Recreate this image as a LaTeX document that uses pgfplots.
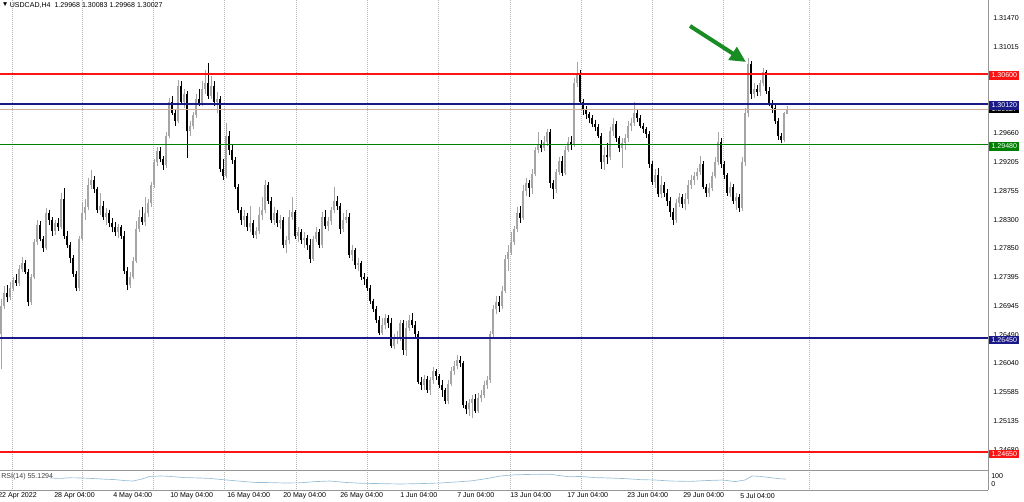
\documentclass[border=0pt]{standalone}
\usepackage{fontspec}
\setmainfont{Liberation Sans}
\usepackage{pgfplots}
\usepackage{pgfplotstable}
\pgfplotsset{compat=1.18}
\usetikzlibrary{arrows.meta}

\definecolor{bullc}{RGB}{165,165,165}
\definecolor{lvlred}{RGB}{250,20,20}
\definecolor{lvlnavy}{RGB}{25,25,135}
\definecolor{lvlgreen}{RGB}{0,128,0}
\definecolor{bidc}{RGB}{210,175,160}
\definecolor{gridc}{RGB}{180,180,180}
\definecolor{framec}{RGB}{150,150,150}
\definecolor{rsic}{RGB}{150,190,215}
\definecolor{arrowc}{RGB}{25,140,35}

% USDCAD H4 candles, one row per bar: open high low close
\pgfplotstableread{
o h l c
1.2650 1.2705 1.2595 1.2695
1.2695 1.2725 1.2690 1.2715
1.2715 1.2728 1.2700 1.2708
1.2708 1.2732 1.2704 1.2722
1.2722 1.2740 1.2718 1.2735
1.2735 1.2745 1.2726 1.2730
1.2730 1.2758 1.2726 1.2752
1.2752 1.2772 1.2748 1.2762
1.2762 1.2766 1.2744 1.2748
1.2748 1.2752 1.2694 1.2700
1.2700 1.2744 1.2696 1.2740
1.2740 1.2800 1.2736 1.2795
1.2795 1.2830 1.2790 1.2822
1.2822 1.2828 1.2796 1.2800
1.2800 1.2805 1.2780 1.2785
1.2785 1.2848 1.2783 1.2840
1.2840 1.2846 1.2822 1.2830
1.2830 1.2834 1.2805 1.2812
1.2812 1.2830 1.2806 1.2825
1.2825 1.2832 1.2812 1.2818
1.2818 1.2872 1.2815 1.2862
1.2862 1.2880 1.2800 1.2805
1.2805 1.2812 1.2785 1.2790
1.2790 1.2795 1.2762 1.2770
1.2770 1.2774 1.2740 1.2745
1.2745 1.2750 1.2718 1.2722
1.2722 1.2805 1.2718 1.2800
1.2800 1.2858 1.2796 1.2840
1.2840 1.2862 1.2830 1.2850
1.2850 1.2895 1.2845 1.2885
1.2885 1.2908 1.2878 1.2892
1.2892 1.2898 1.2872 1.2878
1.2878 1.2882 1.2840 1.2845
1.2845 1.2872 1.2838 1.2852
1.2852 1.2860 1.2830 1.2835
1.2835 1.2848 1.2822 1.2840
1.2840 1.2845 1.2818 1.2825
1.2825 1.2832 1.2810 1.2818
1.2818 1.2826 1.2804 1.2810
1.2810 1.2824 1.2802 1.2818
1.2818 1.2822 1.2800 1.2805
1.2805 1.2812 1.2745 1.2750
1.2750 1.2755 1.2719 1.2728
1.2728 1.2748 1.2722 1.2740
1.2740 1.2772 1.2736 1.2765
1.2765 1.2828 1.2762 1.2815
1.2815 1.2845 1.2810 1.2835
1.2835 1.2850 1.2822 1.2826
1.2826 1.2866 1.2820 1.2840
1.2840 1.2862 1.2834 1.2856
1.2856 1.2890 1.2850 1.2885
1.2885 1.2925 1.2880 1.2920
1.2920 1.2945 1.2914 1.2938
1.2938 1.2945 1.2920 1.2925
1.2925 1.2930 1.2908 1.2916
1.2916 1.2968 1.2912 1.2962
1.2962 1.3022 1.2958 1.3015
1.3015 1.3025 1.2994 1.2998
1.2998 1.3003 1.2978 1.2985
1.2985 1.3050 1.2982 1.3040
1.3040 1.3048 1.3010 1.3015
1.3015 1.3035 1.3005 1.3028
1.3028 1.3033 1.2927 1.2970
1.2970 1.2985 1.2962 1.2978
1.2978 1.3000 1.2972 1.2995
1.2995 1.3028 1.2990 1.3020
1.3020 1.3035 1.3008 1.3012
1.3012 1.3048 1.3008 1.3035
1.3035 1.3065 1.3028 1.3045
1.3045 1.3076 1.3020 1.3025
1.3025 1.3056 1.3020 1.3040
1.3040 1.3048 1.3008 1.3015
1.3015 1.3030 1.2998 1.3020
1.3020 1.3025 1.2905 1.2910
1.2910 1.2925 1.2892 1.2898
1.2898 1.2982 1.2895 1.2962
1.2962 1.2970 1.2932 1.2940
1.2940 1.2948 1.2918 1.2924
1.2924 1.2928 1.2878 1.2882
1.2882 1.2886 1.2840 1.2845
1.2845 1.2850 1.2822 1.2830
1.2830 1.2845 1.2818 1.2836
1.2836 1.2840 1.2812 1.2818
1.2818 1.2852 1.2810 1.2825
1.2825 1.2830 1.2802 1.2806
1.2806 1.2818 1.2800 1.2812
1.2812 1.2850 1.2808 1.2838
1.2838 1.2865 1.2830 1.2845
1.2845 1.2892 1.2840 1.2885
1.2885 1.2890 1.2855 1.2860
1.2860 1.2865 1.2825 1.2830
1.2830 1.2850 1.2822 1.2840
1.2840 1.2845 1.2818 1.2825
1.2825 1.2838 1.2815 1.2830
1.2830 1.2834 1.2785 1.2790
1.2790 1.2805 1.2778 1.2798
1.2798 1.2845 1.2792 1.2835
1.2835 1.2866 1.2830 1.2842
1.2842 1.2846 1.2800 1.2805
1.2805 1.2818 1.2795 1.2810
1.2810 1.2815 1.2792 1.2798
1.2798 1.2810 1.2785 1.2802
1.2802 1.2806 1.2782 1.2790
1.2790 1.2800 1.2762 1.2768
1.2768 1.2805 1.2765 1.2800
1.2800 1.2818 1.2795 1.2810
1.2810 1.2816 1.2785 1.2790
1.2790 1.2842 1.2786 1.2835
1.2835 1.2845 1.2815 1.2820
1.2820 1.2835 1.2812 1.2828
1.2828 1.2850 1.2822 1.2845
1.2845 1.2881 1.2840 1.2860
1.2860 1.2868 1.2845 1.2852
1.2852 1.2856 1.2808 1.2815
1.2815 1.2840 1.2810 1.2830
1.2830 1.2845 1.2825 1.2835
1.2835 1.2840 1.2770 1.2775
1.2775 1.2790 1.2765 1.2782
1.2782 1.2785 1.2752 1.2758
1.2758 1.2770 1.2750 1.2762
1.2762 1.2765 1.2735 1.2740
1.2740 1.2746 1.2728 1.2736
1.2736 1.2740 1.2718 1.2722
1.2722 1.2728 1.2698 1.2702
1.2702 1.2706 1.2685 1.2690
1.2690 1.2695 1.2668 1.2672
1.2672 1.2678 1.2648 1.2652
1.2652 1.2675 1.2648 1.2665
1.2665 1.2682 1.2658 1.2675
1.2675 1.2680 1.2660 1.2668
1.2668 1.2676 1.2628 1.2632
1.2632 1.2650 1.2626 1.2642
1.2642 1.2655 1.2635 1.2645
1.2645 1.2672 1.2640 1.2668
1.2668 1.2672 1.2618 1.2625
1.2625 1.2670 1.2615 1.2660
1.2660 1.2680 1.2655 1.2672
1.2672 1.2683 1.2660 1.2665
1.2665 1.2670 1.2645 1.2650
1.2650 1.2655 1.2572 1.2575
1.2575 1.2582 1.2562 1.2570
1.2570 1.2586 1.2562 1.2580
1.2580 1.2585 1.2558 1.2562
1.2562 1.2582 1.2555 1.2578
1.2578 1.2598 1.2572 1.2592
1.2592 1.2596 1.2578 1.2585
1.2585 1.2588 1.2565 1.2570
1.2570 1.2578 1.2552 1.2562
1.2562 1.2566 1.2540 1.2545
1.2545 1.2578 1.2540 1.2572
1.2572 1.2598 1.2568 1.2592
1.2592 1.2608 1.2586 1.2600
1.2600 1.2618 1.2595 1.2610
1.2610 1.2615 1.2598 1.2604
1.2604 1.2608 1.2534 1.2538
1.2538 1.2545 1.2525 1.2532
1.2532 1.2548 1.2522 1.2542
1.2542 1.2555 1.2518 1.2548
1.2548 1.2556 1.2526 1.2530
1.2530 1.2558 1.2526 1.2550
1.2550 1.2562 1.2544 1.2555
1.2555 1.2576 1.2550 1.2570
1.2570 1.2585 1.2564 1.2578
1.2578 1.2655 1.2574 1.2650
1.2650 1.2696 1.2645 1.2690
1.2690 1.2710 1.2682 1.2700
1.2700 1.2710 1.2685 1.2695
1.2695 1.2725 1.2690 1.2718
1.2718 1.2775 1.2714 1.2768
1.2768 1.2790 1.2750 1.2780
1.2780 1.2810 1.2775 1.2795
1.2795 1.2820 1.2790 1.2815
1.2815 1.2850 1.2810 1.2840
1.2840 1.2852 1.2825 1.2833
1.2833 1.2885 1.2830 1.2875
1.2875 1.2895 1.2868 1.2888
1.2888 1.2892 1.2865 1.2880
1.2880 1.2910 1.2870 1.2902
1.2902 1.2945 1.2898 1.2940
1.2940 1.2968 1.2935 1.2948
1.2948 1.2955 1.2936 1.2942
1.2942 1.2962 1.2938 1.2952
1.2952 1.2972 1.2946 1.2968
1.2968 1.2972 1.2880 1.2888
1.2888 1.2892 1.2862 1.2878
1.2878 1.2910 1.2872 1.2905
1.2905 1.2928 1.2900 1.2922
1.2922 1.2930 1.2898 1.2904
1.2904 1.2946 1.2900 1.2940
1.2940 1.2960 1.2936 1.2952
1.2952 1.2962 1.2940 1.2948
1.2948 1.3052 1.2945 1.3045
1.3045 1.3078 1.3038 1.3060
1.3060 1.3065 1.3010 1.3015
1.3015 1.3020 1.2995 1.3002
1.3002 1.3008 1.2988 1.2996
1.2996 1.3000 1.2982 1.2990
1.2990 1.2995 1.2975 1.2980
1.2980 1.2986 1.2970 1.2975
1.2975 1.2980 1.2958 1.2962
1.2962 1.2966 1.2910 1.2920
1.2920 1.2945 1.2908 1.2932
1.2932 1.2950 1.2918 1.2928
1.2928 1.2975 1.2924 1.2970
1.2970 1.2990 1.2962 1.2980
1.2980 1.2985 1.2952 1.2958
1.2958 1.2962 1.2936 1.2942
1.2942 1.2958 1.2912 1.2950
1.2950 1.2965 1.2940 1.2958
1.2958 1.2985 1.2952 1.2978
1.2978 1.2990 1.2970 1.2982
1.2982 1.3015 1.2978 1.2998
1.2998 1.3004 1.2984 1.2990
1.2990 1.2994 1.2974 1.2978
1.2978 1.2982 1.2966 1.2972
1.2972 1.2976 1.2958 1.2965
1.2965 1.2970 1.2912 1.2918
1.2918 1.2922 1.2885 1.2890
1.2890 1.2910 1.2880 1.2900
1.2900 1.2912 1.2865 1.2870
1.2870 1.2898 1.2864 1.2885
1.2885 1.2890 1.2866 1.2872
1.2872 1.2878 1.2852 1.2860
1.2860 1.2866 1.2835 1.2842
1.2842 1.2848 1.2822 1.2830
1.2830 1.2862 1.2825 1.2856
1.2856 1.2872 1.2850 1.2865
1.2865 1.2870 1.2848 1.2855
1.2855 1.2872 1.2845 1.2862
1.2862 1.2892 1.2855 1.2885
1.2885 1.2900 1.2878 1.2892
1.2892 1.2905 1.2885 1.2898
1.2898 1.2912 1.2892 1.2905
1.2905 1.2930 1.2900 1.2918
1.2918 1.2922 1.2878 1.2882
1.2882 1.2886 1.2866 1.2872
1.2872 1.2888 1.2865 1.2880
1.2880 1.2905 1.2875 1.2898
1.2898 1.2928 1.2895 1.2920
1.2920 1.2968 1.2916 1.2952
1.2952 1.2958 1.2912 1.2918
1.2918 1.2922 1.2894 1.2900
1.2900 1.2904 1.2868 1.2872
1.2872 1.2890 1.2866 1.2882
1.2882 1.2886 1.2855 1.2860
1.2860 1.2872 1.2845 1.2865
1.2865 1.2870 1.2842 1.2848
1.2848 1.2928 1.2844 1.2920
1.2920 1.3005 1.2915 1.2998
1.2998 1.3084 1.2992 1.3075
1.3075 1.3080 1.3020 1.3028
1.3028 1.3045 1.3022 1.3036
1.3036 1.3042 1.3024 1.3030
1.3030 1.3050 1.3025 1.3045
1.3045 1.3068 1.3040 1.3062
1.3062 1.3066 1.3028 1.3032
1.3032 1.3038 1.3008 1.3012
1.3012 1.3018 1.2998 1.3005
1.3005 1.3010 1.2980 1.2985
1.2985 1.2990 1.2956 1.2962
1.2962 1.2966 1.2950 1.2955
1.2955 1.3000 1.2952 1.2997
1.29968 1.30083 1.29968 1.30027
}\candles

% RSI(14), x in chart pixels
\pgfplotstableread{
x r
50 60
60 58
70 61
83 60
95 57
105 54
115 52
125 47
133 45
142 55
150 68
160 70
167 69
175 66
185 62
200 60
210 58
220 53
227 50
240 44
255 38
270 37
285 35
300 36
315 42
330 45
345 38
360 34
380 32
400 30
420 32
440 35
455 40
470 45
480 52
490 60
500 70
515 76
530 78
550 79
560 72
570 66
580 68
595 62
610 60
625 57
640 52
655 50
670 45
690 43
705 47
723 50
735 42
745 50
752 70
760 68
770 62
780 56
786 55
}\rsi

\begin{document}
\begin{tikzpicture}[font=\fontsize{5.3}{6.3}\selectfont]

% vertical grid, frame (pixel units)
\begin{scope}[x=0.75pt,y=-0.75pt]
\foreach \gx in {12,82,153,224,296,367,438,510,581,652,723,809}
  \draw[gridc, densely dotted, line width=0.5pt] (\gx,0) -- (\gx,490);
\draw[framec, line width=0.6pt] (988,0) -- (988,490);
\draw[framec, line width=0.6pt] (0,470) -- (988,470);
\draw[framec, line width=0.6pt] (0,490) -- (988,490);
\end{scope}

\begin{axis}[
  at={(0pt,0pt)}, anchor=north west,
  scale only axis, width=741pt, height=351pt,
  xmin=0, xmax=988, ymin=1.24397, ymax=1.31753,
  axis line style={draw=none}, xtick=\empty,
  ytick={1.31470,1.31015,1.30565,1.30110,1.29660,1.29205,1.28755,1.28300,1.27850,1.27395,1.26945,1.26490,1.26040,1.25585,1.25135,1.24680},
  yticklabels={1.31470,1.31015,1.30565,1.30110,1.29660,1.29205,1.28755,1.28300,1.27850,1.27395,1.26945,1.26490,1.26040,1.25585,1.25135,1.24680},
  ytick pos=right, yticklabel pos=right,
  major tick length=0pt,
  yticklabel style={anchor=west, inner sep=0pt, xshift=3.75pt, text=black},
  tick label style={font=\fontsize{5.3}{6.3}\selectfont},
  filter discard warning=false,
]
% wicks
\addplot[draw=none, mark=none, forget plot,
  restrict expr to domain={\thisrow{c}-\thisrow{o}}{0:1},
  error bars/.cd, y dir=plus, y explicit, error mark=none,
  error bar style={draw=bullc, solid, line width=0.55pt}]
  table[x expr=\coordindex*3+1, y=l, y error plus expr=\thisrow{h}-\thisrow{l}] {\candles};
\addplot[draw=none, mark=none, forget plot,
  restrict expr to domain={\thisrow{c}-\thisrow{o}}{-1:0},
  error bars/.cd, y dir=plus, y explicit, error mark=none,
  error bar style={draw=black, solid, line width=0.55pt}]
  table[x expr=\coordindex*3+1, y=l, y error plus expr=\thisrow{h}-\thisrow{l}] {\candles};
% bodies
\addplot[draw=none, mark=none, forget plot,
  restrict expr to domain={\thisrow{c}-\thisrow{o}}{0:1},
  error bars/.cd, y dir=plus, y explicit, error mark=none,
  error bar style={draw=bullc, solid, line width=1.2pt}]
  table[x expr=\coordindex*3+1, y=o, y error plus expr=\thisrow{c}-\thisrow{o}] {\candles};
\addplot[draw=none, mark=none, forget plot,
  restrict expr to domain={\thisrow{c}-\thisrow{o}}{-1:0},
  error bars/.cd, y dir=plus, y explicit, error mark=none,
  error bar style={draw=black, solid, line width=1.5pt}]
  table[x expr=\coordindex*3+1, y=c, y error plus expr=\thisrow{o}-\thisrow{c}] {\candles};
\end{axis}

% horizontal levels and price boxes, in pixel units (1px = 0.75pt)
\begin{scope}[x=0.75pt,y=-0.75pt]
\draw[draw=bidc, line width=0.6pt] (0,109.8) -- (988,109.8);
\draw[color=lvlred, line width=1.4pt] (0,74) -- (988,74);
\draw[color=lvlnavy, line width=1pt] (0,104) -- (988,104);
\draw[color=lvlgreen, line width=1pt] (0,144.5) -- (988,144.5);
\draw[color=lvlnavy, line width=1pt] (0,338) -- (988,338);
\draw[color=lvlred, line width=1.1pt] (0,452) -- (988,452);

\tikzset{pbox/.style={anchor=west, inner sep=0pt, minimum width=22.5pt, minimum height=6.6pt, text=white}}
\node[pbox, fill=black] at (989,109) {1.30027};
\node[pbox, fill=lvlred] at (989,75.5) {1.30600};
\node[pbox, fill=lvlnavy] at (989,105.5) {1.30120};
\node[pbox, fill=lvlgreen] at (989,146.5) {1.29480};
\node[pbox, fill=lvlnavy] at (989,340) {1.26450};
\node[pbox, fill=lvlred] at (989,454) {1.24650};
\end{scope}

% RSI sub-window
\begin{axis}[
  at={(0pt,-352.5pt)}, anchor=north west,
  scale only axis, width=741pt, height=15pt,
  xmin=0, xmax=988, ymin=0, ymax=100,
  axis line style={draw=none}, ticks=none,
]
\addplot[rsic, line width=0.5pt, mark=none] table[x=x, y=r] {\rsi};
\end{axis}

\begin{scope}[x=0.75pt,y=-0.75pt]
% header and sub-window captions
\node[anchor=west, inner sep=0pt, font=\fontsize{5}{5}\selectfont] at (1.5,5) {▼};
\node[anchor=west, inner sep=0pt] at (9.5,5.5) {USDCAD,H4\ \ 1.29968 1.30083 1.29968 1.30027};
\node[anchor=west, inner sep=0pt, text=black!75] at (1,477) {RSI(14) 55.1294};
\node[anchor=west, inner sep=0pt] at (991,476) {100};
\node[anchor=west, inner sep=0pt] at (991,484.5) {0};

% time scale
\foreach \tx/\tl in {-2/22 Apr 2022, 54/28 Apr 04:00, 113/4 May 04:00, 170/10 May 04:00,
  227/16 May 04:00, 283/20 May 04:00, 340/26 May 04:00, 400/1 Jun 04:00, 457/7 Jun 04:00,
  510/13 Jun 04:00, 567/17 Jun 04:00, 627/23 Jun 04:00, 683/29 Jun 04:00, 740/5 Jul 04:00}
  \node[anchor=west, inner sep=0pt] at (\tx,495.5) {\tl};

% arrow
\draw[arrowc, line width=3pt, -{Triangle[length=12pt,width=11pt]}] (690,26) -- (746,62);
\end{scope}

\pgfresetboundingbox
\path (0pt,0pt) rectangle (768pt,-375.75pt);
\end{tikzpicture}
\end{document}
